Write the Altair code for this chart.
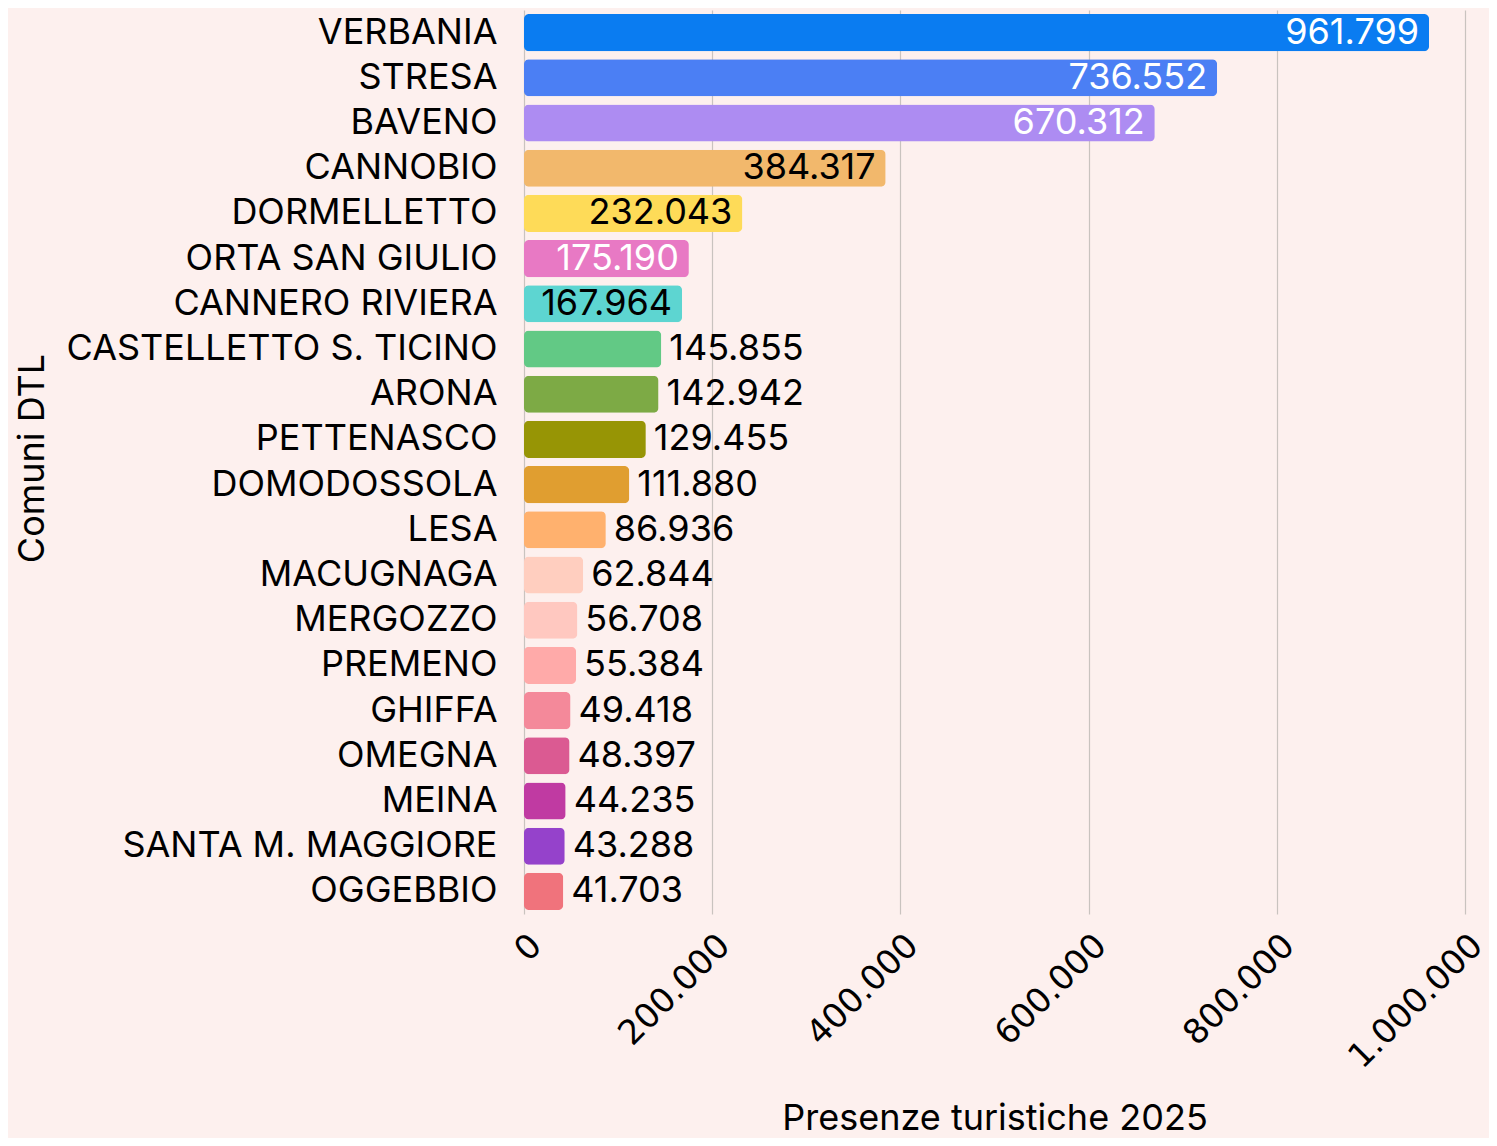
import altair as alt
import pandas as pd

comuni = ["VERBANIA", "STRESA", "BAVENO", "CANNOBIO", "DORMELLETTO", "ORTA SAN GIULIO",
          "CANNERO RIVIERA", "CASTELLETTO S. TICINO", "ARONA", "PETTENASCO", "DOMODOSSOLA",
          "LESA", "MACUGNAGA", "MERGOZZO", "PREMENO", "GHIFFA", "OMEGNA", "MEINA",
          "SANTA M. MAGGIORE", "OGGEBBIO"]
presenze = [961799, 736552, 670312, 384317, 232043, 175190, 167964, 145855, 142942, 129455,
            111880, 86936, 62844, 56708, 55384, 49418, 48397, 44235, 43288, 41703]
colori = ["#0a7cf1", "#4b7ff4", "#ad8cf2", "#f2b86c", "#fedb58", "#e879c4", "#5dd5d1",
          "#62c985", "#7daa45", "#979505", "#e09e30", "#ffb16e", "#ffcebf", "#ffc8c0",
          "#ffaaa9", "#f4899a", "#db5a92", "#c03aa2", "#9542cb", "#f0737c"]
posizione = ["dentro"] * 7 + ["fuori"] * 13
colore_testo = ["white", "white", "white", "black", "black", "white", "black"] + ["black"] * 13

def fmt(v):
    return f"{v:,}".replace(",", ".")

df = pd.DataFrame({
    "comune": comuni,
    "presenze": presenze,
    "etichetta": [fmt(v) for v in presenze],
    "pos": posizione,
    "tcol": colore_testo,
})

FONT = "Inter"

y = alt.Y("comune:N", sort=comuni, title="Comuni DTL",
          scale=alt.Scale(paddingInner=0.18, paddingOuter=0.09),
          axis=alt.Axis(labelFontSize=36, labelFont=FONT, labelColor="black",
                        titleFontSize=36, titleFont=FONT, titleFontWeight="normal",
                        titleColor="black", ticks=False, domain=False, labelPadding=27,
                        titleX=-481, titleY=448, titleAlign="center",
                        titleBaseline="alphabetic", labelLimit=600))
x = alt.X("presenze:Q", title="Presenze turistiche 2025",
          scale=alt.Scale(domain=[0, 1000000], nice=False),
          axis=alt.Axis(values=[0, 200000, 400000, 600000, 800000, 1000000],
                        labelExpr="join(split(format(datum.value, ','), ','), '.')",
                        labelAngle=-45, labelFontSize=34, labelFont="DejaVu Sans",
                        labelColor="black", labelPadding=14, labelLimit=500,
                        ticks=False, domain=False,
                        grid=True, gridColor="#c9c3bf", gridWidth=1.2,
                        titleFontSize=36, titleFont=FONT, titleFontWeight="normal",
                        titleColor="black", titleY=215, titleX=470.5,
                        titleAlign="center", titleBaseline="alphabetic"))

base = alt.Chart(df)

bars = base.mark_bar(cornerRadius=5).encode(
    x=x, y=y,
    color=alt.Color("comune:N", scale=alt.Scale(domain=comuni, range=colori), legend=None),
)

inside = base.transform_filter(alt.datum.pos == "dentro").mark_text(
    align="right", baseline="middle", dx=-10, fontSize=36, font=FONT
).encode(
    x="presenze:Q", y=alt.Y("comune:N", sort=comuni),
    text="etichetta:N",
    color=alt.Color("tcol:N", scale=None),
)

outside = base.transform_filter(alt.datum.pos == "fuori").mark_text(
    align="left", baseline="middle", dx=8, fontSize=36, font=FONT, color="black"
).encode(
    x="presenze:Q", y=alt.Y("comune:N", sort=comuni),
    text="etichetta:N",
)

chart = alt.layer(bars, inside, outside).properties(
    width=941, height=904,
    background="#fdf0ee",
    padding={"left": 516, "top": 2, "right": 24, "bottom": 224},
    autosize=alt.AutoSizeParams(type="none"),
).configure_view(stroke=None)

chart.save("out.html", embed_options={"renderer": "svg", "actions": False})
